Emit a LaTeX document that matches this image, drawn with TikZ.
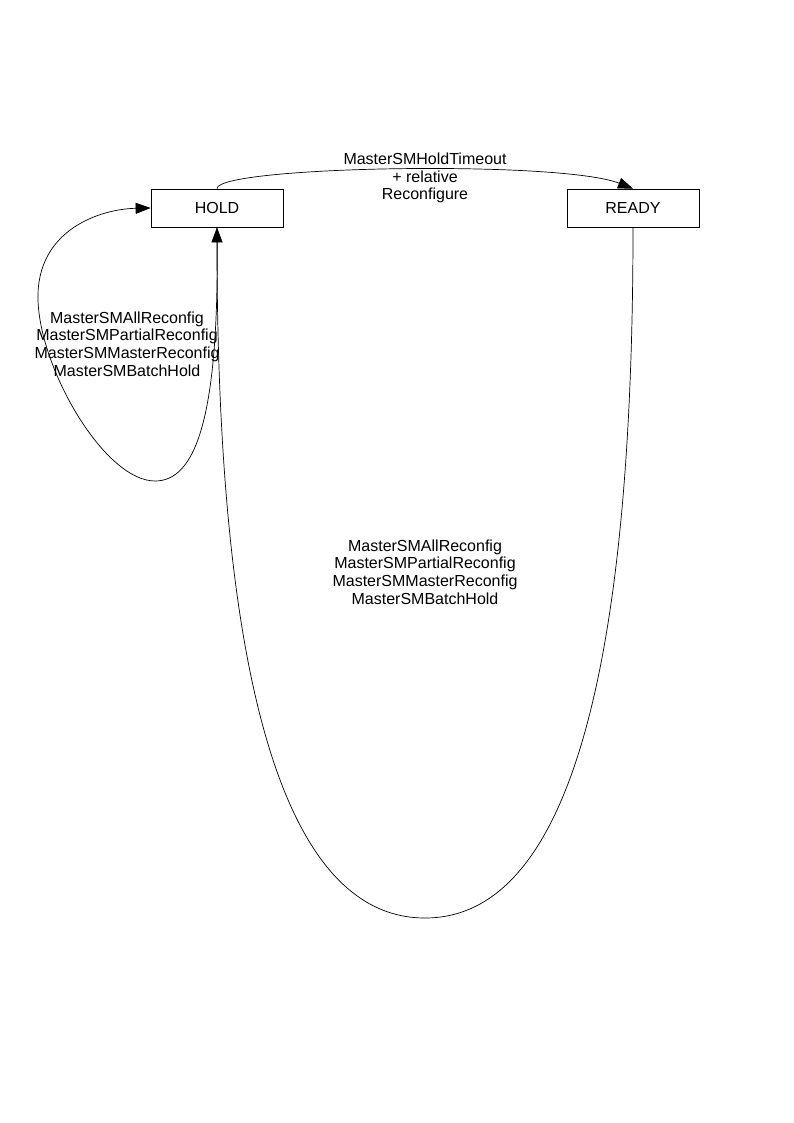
\documentclass[tikz,border=0pt]{standalone}
\usepackage{fontspec}
\setmainfont{Liberation Sans}
\usetikzlibrary{arrows.meta}
\usetikzlibrary{positioning}
\tikzset{state/.style = {draw, rectangle, minimum width = 132, minimum height = 38, inner sep = 0},
  trans/.style = {-{Triangle[length = 15, width = 11]}},
  lbl/.style = {align = center, inner sep = 0, font = \fontsize{16}{17.8}\selectfont}}

\begin{document}
\begin{tikzpicture}[x = 1pt, y = -1pt, line width = 0.7pt]
    \useasboundingbox (0, 0) rectangle (794, 1123);

    \node [state, font = \fontsize{16}{17.8}\selectfont] (hold) at (217, 208) {HOLD};
    \node [state, font = \fontsize{16}{17.8}\selectfont] (ready) at (633, 208) {READY};

    \draw [trans] (hold.north) .. controls (217, 166) and (560, 160) .. (ready.north);
    \node [lbl] (toplbl) at (425, 178) {MasterSMHoldTimeout\\+ relative\\Reconfigure};

    \draw [trans] (hold.south) .. controls (220, 420) and (195, 481) .. (155, 481)
      .. controls (105, 481) and (40, 370) .. (38, 300)
      .. controls (36, 230) and (100, 209) .. (hold.west);
    \node [lbl] (looplbl) at (127, 344) {MasterSMAllReconfig\\MasterSMPartialReconfig\\MasterSMMasterReconfig\\MasterSMBatchHold};

    \draw [trans] (ready.south) .. controls (633, 700) and (560, 918) .. (425, 918)
      .. controls (290, 918) and (217, 700) .. (hold.south);
    \node [lbl] (backlbl) at (425, 572) {MasterSMAllReconfig\\MasterSMPartialReconfig\\MasterSMMasterReconfig\\MasterSMBatchHold};
  \end{tikzpicture}
\end{document}
